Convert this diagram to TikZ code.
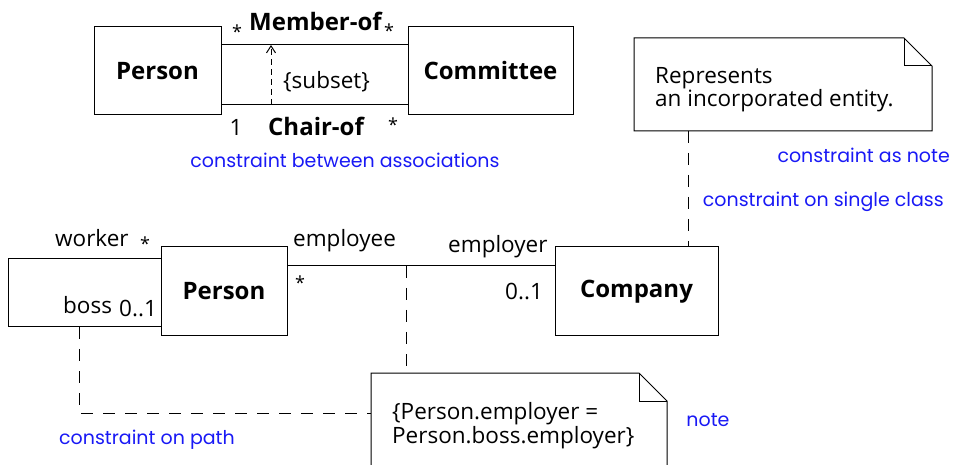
\documentclass[tikz,border=0pt]{standalone}
\usepackage{fontspec}
\setmainfont{Open Sans}
\newfontfamily\bluefont{Poppins}
\usetikzlibrary{arrows.meta}
\definecolor{lblue}{RGB}{25,25,245}
\begin{document}
\begin{tikzpicture}[x=1pt,y=-1pt,
  cls/.style={draw,line width=1pt,inner sep=0pt,font=\fontsize{24}{27}\selectfont\bfseries},
  lbl/.style={inner sep=0pt,font=\fontsize{22.5}{21}\selectfont},
  star/.style={inner sep=0pt,font=\fontsize{18}{20}\selectfont},
  asc/.style={inner sep=0pt,font=\fontsize{24}{27}\selectfont\bfseries},
  blu/.style={inner sep=0pt,text=lblue,font=\bluefont\fontsize{19}{22}\selectfont},
  assoc/.style={line width=1pt},
  dsh/.style={line width=1pt,dash pattern=on 12pt off 10pt},
  notebox/.style={line width=1pt,fill=white}]
\useasboundingbox (0,0) rectangle (954,465);
% top
\node[cls,minimum width=127pt,minimum height=88pt] (p1) at (157.5,71) {Person};
\node[cls,minimum width=165pt,minimum height=88pt] (c1) at (490.5,71) {Committee};
\coordinate (m1) at (p1.east |- 0,45);
\coordinate (m2) at (c1.west |- 0,45);
\coordinate (h1) at (p1.east |- 0,105);
\coordinate (h2) at (c1.west |- 0,105);
\draw[assoc] (m1) -- (m2);
\draw[assoc] (h1) -- (h2);
\coordinate (sb) at (271,105);
\coordinate (st) at (271,45);
\draw[line width=1pt,dash pattern=on 6pt off 4pt,-{Straight Barb[length=7pt,width=9pt,line width=1pt]}] (sb) -- (st);
\node[star] (ma) at (237,32) {*};
\node[asc,anchor=base west] (mof) at (249,31) {Member-of};
\node[star] (mb) at (389,31) {*};
\node[lbl,anchor=base west] (sub) at (283,89) {\{subset\}};
\node[lbl] (ca) at (236,127) {1};
\node[asc,anchor=base west] (cof) at (268,136) {Chair-of};
\node[star] (cb) at (393,125) {*};
\node[blu] (t1) at (345,160) {constraint between associations};
% note 1
\draw[notebox] (634,38) -- (904,38) -- (932,66) -- (932,131) -- (634,131) -- cycle;
\draw[line width=1pt] (904,38) -- (904,66) -- (932,66);
\node[lbl,anchor=base west,align=left] (n1t) at (655,107) {Represents\\an incorporated entity.};
\node[blu,anchor=east] (t2) at (950,155) {constraint as note};
\node[blu,anchor=east] (t3) at (944,202) {constraint on single class};
% bottom
\node[cls,minimum width=126pt,minimum height=89pt] (p2) at (224,291.5) {Person};
\node[cls,minimum width=163pt,minimum height=89pt] (co) at (636.5,291.5) {Company};
\coordinate (s1) at (p2.west |- 0,259);
\coordinate (s2) at (p2.west |- 0,327);
\coordinate (s3) at (8,259);
\coordinate (s4) at (8,327);
\draw[assoc] (s1) -- (s3) -- (s4) -- (s2);
\coordinate (e1) at (p2.east |- 0,266);
\coordinate (e2) at (co.west |- 0,266);
\draw[assoc] (e1) -- (e2);
\node[lbl,anchor=base west] (w) at (55,247) {worker};
\node[star] (wa) at (145,244) {*};
\node[lbl,anchor=base west] (b) at (63,313) {boss};
\node[lbl,anchor=base west] (bb) at (119,317) {0..1};
\node[lbl,anchor=base west] (ee) at (293,247) {employee};
\node[lbl,anchor=base west] (er) at (448,253) {employer};
\node[star] (ea) at (300,283) {*};
\node[lbl,anchor=base west] (eb) at (505,300) {0..1};
% note 2
\draw[notebox] (371,373) -- (639,373) -- (667,401) -- (667,480) -- (371,480) -- cycle;
\draw[line width=1pt] (639,373) -- (639,401) -- (667,401);
\node[lbl,anchor=base west,align=left] (n2t) at (392,443) {\{Person.employer =\\Person.boss.employer\}};
\coordinate (n2w) at (371,413);
\coordinate (d1) at (406,266);
\coordinate (d2) at (406,373);
\draw[dsh] (d1) -- (d2);
\coordinate (q1) at (79,327);
\coordinate (q2) at (79,413);
\draw[dsh] (q1) -- (q2) -- (n2w);
\coordinate (r1) at (688,131);
\coordinate (r2) at (688,247);
\draw[dsh] (r1) -- (r2);
\node[blu] (t4) at (147,440) {constraint on path};
\node[blu] (t5) at (708,420) {note};
\end{tikzpicture}
\end{document}
